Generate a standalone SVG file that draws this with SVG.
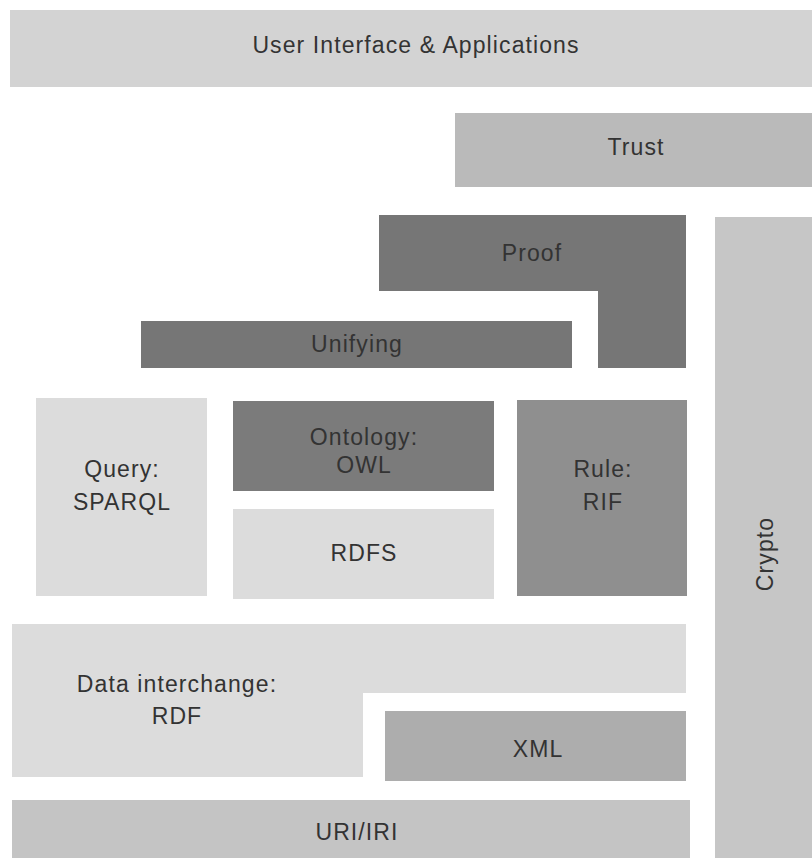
<svg xmlns="http://www.w3.org/2000/svg" width="812" height="858" viewBox="0 0 812 858">
<style>
text{font-family:"Liberation Sans","DejaVu Sans",sans-serif;font-size:23px;letter-spacing:1.1px;fill:#333;text-anchor:middle;dominant-baseline:central}
</style>
<rect width="812" height="858" fill="#fff"/>
<g id="ui"><rect x="10" y="10" width="802" height="77" fill="#d3d3d3"/><text x="416" y="45">User Interface &amp; Applications</text></g>
<g id="trust"><rect x="455" y="113" width="357" height="74" fill="#bababa"/><text x="636" y="147">Trust</text></g>
<g id="proof"><path d="M379 215H686V368H598V291H379Z" fill="#767676"/><text x="532" y="253">Proof</text></g>
<g id="unifying"><rect x="141" y="321" width="431" height="47" fill="#767676"/><text x="357" y="344">Unifying</text></g>
<g id="crypto"><rect x="715" y="217" width="97" height="641" fill="#c6c6c6"/><text transform="translate(765 554) rotate(-90)">Crypto</text></g>
<g id="query"><rect x="36" y="398" width="171" height="198" fill="#dcdcdc"/><text x="122" y="469">Query:</text><text x="122" y="502">SPARQL</text></g>
<g id="ontology"><rect x="233" y="401" width="261" height="90" fill="#7b7b7b"/><text x="364" y="437">Ontology:</text><text x="364" y="465">OWL</text></g>
<g id="rdfs"><rect x="233" y="509" width="261" height="90" fill="#dcdcdc"/><text x="364" y="553">RDFS</text></g>
<g id="rule"><rect x="517" y="400" width="170" height="196" fill="#8f8f8f"/><text x="603" y="469">Rule:</text><text x="603" y="502">RIF</text></g>
<g id="rdf"><path d="M12 624H686V693H363V777H12Z" fill="#dcdcdc"/><text x="177" y="684">Data interchange:</text><text x="177" y="716">RDF</text></g>
<g id="xml"><rect x="385" y="711" width="301" height="70" fill="#adadad"/><text x="538" y="749">XML</text></g>
<g id="uri"><rect x="12" y="800" width="678" height="58" fill="#c4c4c4"/><text x="357" y="832">URI/IRI</text></g>
<g id="connectors"></g>
</svg>
